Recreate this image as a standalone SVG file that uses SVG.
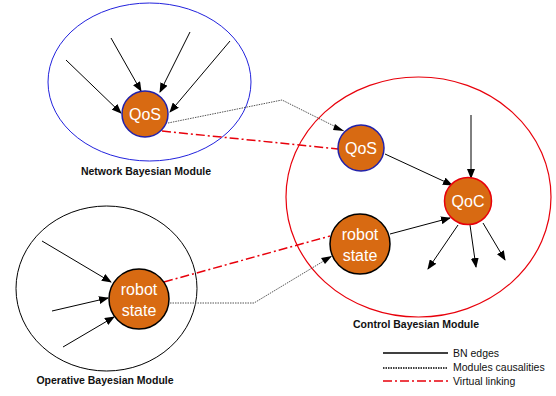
<svg xmlns="http://www.w3.org/2000/svg" width="556" height="396" viewBox="0 0 556 396">
<style>
.node{fill:#D86A12;stroke-width:1.5}
.nt{font-family:"Liberation Sans",Arial,sans-serif;font-size:16px;fill:#fff;text-anchor:middle}
.lbl{font-family:"Liberation Sans",Arial,sans-serif;font-size:10.5px;font-weight:bold;fill:#111;text-anchor:middle}
.leg{font-family:"Liberation Sans",Arial,sans-serif;font-size:10.5px;fill:#111}
.edge{stroke:#000;stroke-width:1;fill:none;marker-end:url(#ah)}
.caus{stroke:#555;stroke-width:1;stroke-dasharray:1.5,1;fill:none}
.virt{stroke:#E8000B;stroke-width:1.5;stroke-dasharray:9,3,2,3;fill:none}
</style>
<defs>
<marker id="ah" markerWidth="10" markerHeight="8" refX="9" refY="4" orient="auto" markerUnits="userSpaceOnUse">
<path d="M0,0 L10,4 L0,8 Z" fill="#000"/>
</marker>
</defs>
<rect width="556" height="396" fill="#fff"/>

<g id="network-module">
<ellipse cx="149.5" cy="82" rx="101.5" ry="79" fill="none" stroke="#2222DD" stroke-width="1"/>
<text class="lbl" x="146" y="175">Network Bayesian Module</text>
</g>
<g id="operative-module">
<ellipse cx="106.5" cy="288.5" rx="90.5" ry="82.5" fill="none" stroke="#000" stroke-width="1"/>
<text class="lbl" x="105" y="384">Operative Bayesian Module</text>
</g>
<g id="control-module">
<ellipse cx="418.5" cy="197" rx="132.5" ry="120" fill="none" stroke="#E8000B" stroke-width="1.2"/>
<text class="lbl" x="416" y="328">Control Bayesian Module</text>
</g>

<g id="connectors">
<line class="edge" x1="66" y1="60" x2="121" y2="113"/>
<line class="edge" x1="111" y1="38" x2="141" y2="91"/>
<line class="edge" x1="190" y1="32" x2="160" y2="92"/>
<line class="edge" x1="230" y1="41" x2="170" y2="112"/>
<line class="edge" x1="42" y1="241" x2="111" y2="282"/>
<line class="edge" x1="52" y1="311" x2="108" y2="298"/>
<line class="edge" x1="63" y1="347" x2="114" y2="317"/>
<line class="edge" x1="471" y1="115" x2="471" y2="178"/>
<line class="edge" x1="385" y1="154" x2="452" y2="185"/>
<line class="edge" x1="390" y1="234" x2="450" y2="218"/>
<line class="edge" x1="458" y1="225" x2="428" y2="269"/>
<line class="edge" x1="470" y1="225" x2="476" y2="267"/>
<line class="edge" x1="483" y1="223" x2="505" y2="260"/>
<polyline class="caus" points="168,123 282,100 344,131"/>
<path d="M344,131 L335,124 L333,130 Z" fill="#000"/>
<polyline class="caus" points="170,303 254,303 332,256"/>
<path d="M332,256 L321,258 L325,264 Z" fill="#000"/>
<line class="virt" x1="162" y1="131" x2="338" y2="149"/>
<line class="virt" x1="164" y1="282" x2="330" y2="236"/>
</g>

<g id="net-qos">
<circle class="node" cx="145" cy="114" r="23" stroke="#2222AA"/>
<text class="nt" x="145" y="120">QoS</text>
</g>
<g id="op-robot-state">
<circle class="node" cx="139" cy="299" r="30" stroke="#000"/>
<text class="nt" x="139" y="295">robot</text>
<text class="nt" x="139" y="316">state</text>
</g>
<g id="ctl-qos">
<circle class="node" cx="361" cy="148" r="23" stroke="#2222AA"/>
<text class="nt" x="361" y="154">QoS</text>
</g>
<g id="ctl-qoc">
<circle class="node" cx="468" cy="201" r="23.5" stroke="#E8000B"/>
<text class="nt" x="468" y="207">QoC</text>
</g>
<g id="ctl-robot-state">
<circle class="node" cx="360" cy="244" r="30" stroke="#000"/>
<text class="nt" x="360" y="240">robot</text>
<text class="nt" x="360" y="261">state</text>
</g>

<g id="legend">
<line x1="383" y1="353" x2="448" y2="353" stroke="#000" stroke-width="1.5"/>
<line x1="383" y1="368" x2="448" y2="368" stroke="#000" stroke-width="1.5" stroke-dasharray="1.5,1"/>
<line x1="383" y1="381" x2="448" y2="381" stroke="#E8000B" stroke-width="1.5" stroke-dasharray="9,3,2,3"/>
<text class="leg" x="453" y="357">BN edges</text>
<text class="leg" x="453" y="371">Modules causalities</text>
<text class="leg" x="453" y="385">Virtual linking</text>
</g>
</svg>
